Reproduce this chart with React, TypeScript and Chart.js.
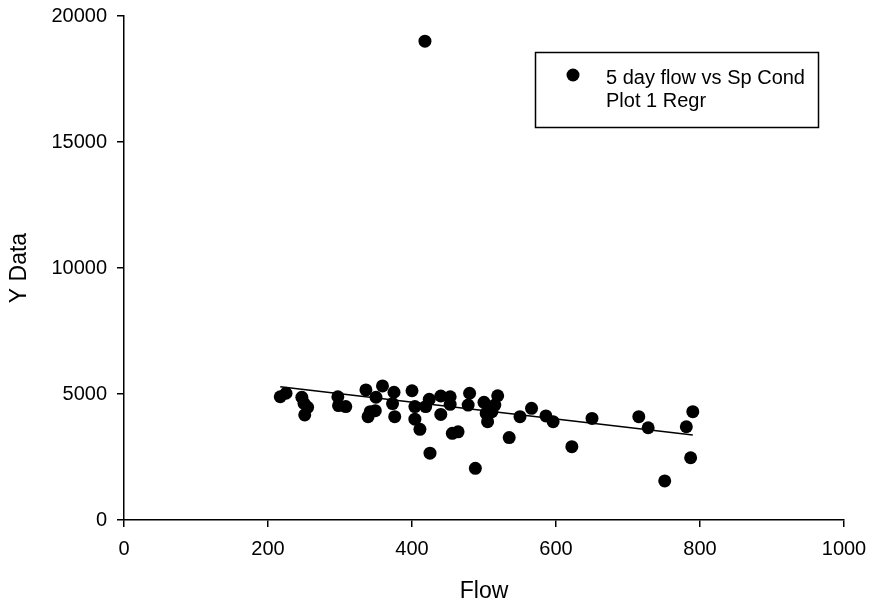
import { useEffect, useRef } from "react";
import { Chart, registerables } from "chart.js";
Chart.register(...registerables);

const flow = [217, 225, 247, 250, 255, 251, 297, 298, 308, 336, 359, 350, 375, 373, 342, 339, 349, 376, 400, 404, 404, 411, 424, 419, 440, 453, 453, 440, 425, 456, 464, 480, 478, 488, 500, 503, 505, 511, 515, 519, 535, 550, 566, 586, 596, 622, 650, 715, 728, 751, 781, 790, 787, 418];
const spCond = [4890, 5030, 4870, 4630, 4470, 4170, 4890, 4540, 4500, 5160, 5320, 4870, 5070, 4620, 4300, 4100, 4340, 4100, 5130, 4500, 4000, 3600, 4790, 4500, 4920, 4890, 4590, 4190, 2650, 3440, 3500, 5030, 4560, 2050, 4670, 4230, 3900, 4300, 4560, 4930, 3270, 4100, 4430, 4130, 3900, 2910, 4030, 4100, 3660, 1550, 3700, 4300, 2470, 19000];
const regrFlow = [217, 790];
const regrY = [5290, 3370];
const xTicks = [0, 200, 400, 600, 800, 1000];
const yTicks = [0, 5000, 10000, 15000, 20000];
const legendLabels = ["5 day flow vs Sp Cond", "Plot 1 Regr"];
const xTitle = "Flow";
const yTitle = "Y Data";

const FONT = "'Liberation Sans', Arial, sans-serif";

const legendPlugin = {
  id: "boxLegend",
  afterDraw(chart: any) {
    const ctx = chart.ctx;
    ctx.save();
    ctx.strokeStyle = "#000";
    ctx.lineWidth = 1.5;
    ctx.strokeRect(535.5, 52.5, 283, 75);
    ctx.fillStyle = "#000";
    ctx.beginPath();
    ctx.arc(573, 75, 6.5, 0, Math.PI * 2);
    ctx.fill();
    ctx.font = `20px ${FONT}`;
    ctx.textBaseline = "alphabetic";
    ctx.textAlign = "left";
    ctx.fillText(legendLabels[0], 606, 84);
    ctx.fillText(legendLabels[1], 606, 107);
    ctx.restore();
  },
};

const plain = (v: any) => String(v);

export default function App() {
  const ref = useRef<HTMLCanvasElement>(null);
  useEffect(() => {
    if (!ref.current) return;
    const chart = new Chart(ref.current, {
      type: "scatter",
      data: {
        datasets: [
          {
            label: legendLabels[0],
            data: flow.map((x, i) => ({ x, y: spCond[i] })),
            backgroundColor: "#000",
            borderColor: "#000",
            pointRadius: 6.5,
            borderWidth: 0,
          },
          {
            label: legendLabels[1],
            type: "line",
            data: regrFlow.map((x, i) => ({ x, y: regrY[i] })),
            borderColor: "#000",
            borderWidth: 1.5,
            pointRadius: 0,
            showLine: true,
            fill: false,
          } as any,
        ],
      },
      options: {
        animation: false,
        responsive: false,
        devicePixelRatio: 1,
        layout: { padding: { top: 16, right: 28, bottom: 0, left: 0 } },
        plugins: { legend: { display: false }, tooltip: { enabled: false } },
        scales: {
          x: {
            type: "linear",
            min: 0,
            max: 1000,
            afterBuildTicks: (s: any) => {
              s.ticks = xTicks.map((v) => ({ value: v }));
            },
            afterFit: (s: any) => {
              s.height = 85;
              s.paddingLeft = 0;
              s.paddingRight = 0;
            },
            ticks: { color: "#000", font: { family: FONT, size: 20 }, padding: 10, maxRotation: 0, callback: plain },
            grid: { drawOnChartArea: false, drawTicks: true, tickLength: 7, color: "#000", lineWidth: 1.5 },
            border: { display: true, color: "#000", width: 1.5 },
            title: { display: true, text: xTitle, color: "#000", font: { family: FONT, size: 23 }, padding: { top: 0, bottom: 0 } },
          },
          y: {
            type: "linear",
            min: 0,
            max: 20000,
            afterBuildTicks: (s: any) => {
              s.ticks = yTicks.map((v) => ({ value: v }));
            },
            afterFit: (s: any) => {
              s.width = 124;
              s.paddingTop = 0;
              s.paddingBottom = 0;
            },
            ticks: { color: "#000", font: { family: FONT, size: 20 }, padding: 10, callback: plain },
            grid: { drawOnChartArea: false, drawTicks: true, tickLength: 7, color: "#000", lineWidth: 1.5 },
            border: { display: true, color: "#000", width: 1.5 },
            title: { display: true, text: yTitle, color: "#000", font: { family: FONT, size: 23 }, padding: { top: 6, bottom: 0 } },
          },
        },
      },
      plugins: [legendPlugin],
    });
    return () => chart.destroy();
  }, []);
  return (
    <div style={{ position: "fixed", left: 0, top: 0, width: 872, height: 605, background: "#fff" }}>
      <canvas ref={ref} width={872} height={605} />
    </div>
  );
}
